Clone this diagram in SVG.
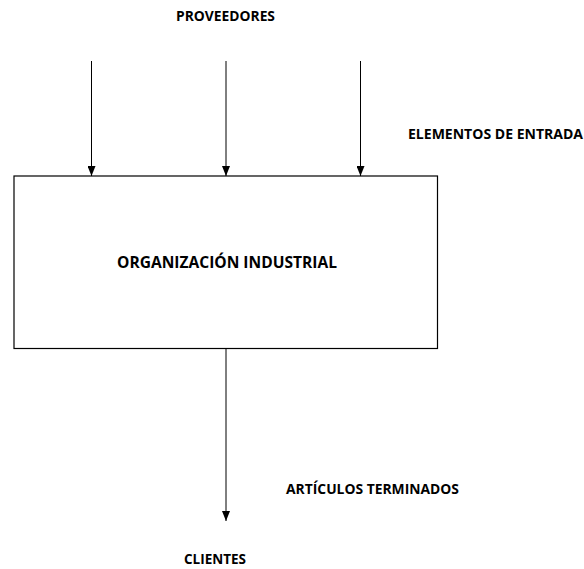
<svg xmlns="http://www.w3.org/2000/svg" width="584" height="569" viewBox="0 0 584 569">
<style>
text{font-family:"Open Sans","Liberation Sans",sans-serif;font-weight:bold;font-size:13.5px;fill:#000}
.big{font-size:16.5px}
.ln{stroke:#000;stroke-width:1;fill:none}
</style>
<defs>
<marker id="ah" viewBox="0 0 10 8" refX="10" refY="4" markerWidth="10" markerHeight="8" markerUnits="userSpaceOnUse" orient="auto">
<path d="M0,0 L10,4 L0,8 Z" fill="#000"/>
</marker>
</defs>
<rect width="584" height="569" fill="#fff"/>
<g id="proveedores"><text x="176" y="21" textLength="99" lengthAdjust="spacingAndGlyphs">PROVEEDORES</text></g>
<g id="elementos"><text x="408" y="139" textLength="175" lengthAdjust="spacingAndGlyphs">ELEMENTOS DE ENTRADA</text></g>
<g id="organizacion">
<rect x="14" y="176" width="423.5" height="172.5" fill="#fff" stroke="#000" stroke-width="1.2"/>
<text class="big" x="117" y="268.3" textLength="220" lengthAdjust="spacingAndGlyphs">ORGANIZACIÓN INDUSTRIAL</text>
</g>
<g id="articulos"><text x="286" y="494" textLength="173" lengthAdjust="spacingAndGlyphs">ARTÍCULOS TERMINADOS</text></g>
<g id="clientes"><text x="184" y="564" textLength="62" lengthAdjust="spacingAndGlyphs">CLIENTES</text></g>
<g id="connectors">
<line class="ln" x1="91.5" y1="61" x2="91.5" y2="176" marker-end="url(#ah)"/>
<line class="ln" x1="226" y1="61" x2="226" y2="176" marker-end="url(#ah)"/>
<line class="ln" x1="360.5" y1="61" x2="360.5" y2="176" marker-end="url(#ah)"/>
<line class="ln" x1="226" y1="349" x2="226" y2="521" marker-end="url(#ah)"/>
</g>
</svg>
